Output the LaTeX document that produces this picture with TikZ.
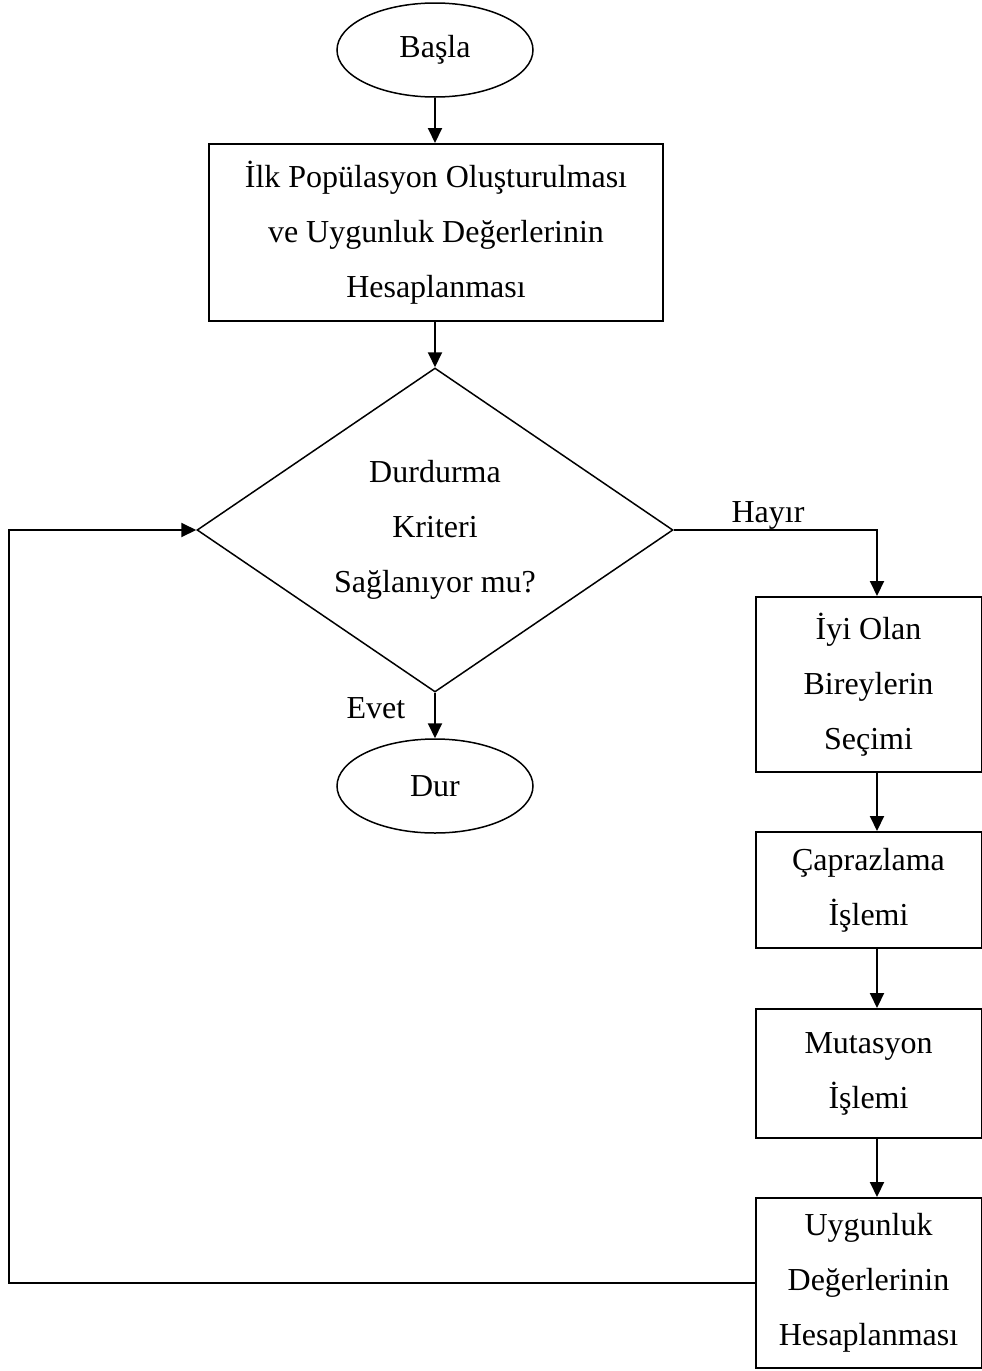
\documentclass[tikz,border=0pt]{standalone}
\usepackage{fontspec}
\setmainfont{Liberation Serif}
\usetikzlibrary{shapes.geometric,arrows.meta}

\tikzset{
  every node/.style={font=\fontsize{32}{55}\selectfont},
  terminal/.style={draw,ellipse,line width=1.5pt,minimum width=196pt,minimum height=94pt,inner sep=0pt},
  process/.style={draw,rectangle,line width=2pt,align=center,inner sep=0pt},
  decision/.style={draw,diamond,line width=1.5pt,align=center,inner sep=0pt,
    minimum width=476pt,minimum height=324pt,aspect=1.47},
  flow/.style={line width=2pt,-{Triangle[length=15pt,width=14pt]}},
  tag/.style={inner sep=0pt,anchor=base}
}

\begin{document}
\begin{tikzpicture}[x=1pt,y=-1pt]
  \useasboundingbox (0,0) rectangle (982,1371);

  % column positions of the connectors
  \coordinate (mid) at (435,0);
  \coordinate (col) at (877,0);
  \coordinate (back) at (9,0);

  % main column
  \node[terminal] (start) at (435,50) {Başla};
  \node[process,minimum width=454pt,minimum height=177pt] (init) at (436,232.5)
    {İlk Popülasyon Oluşturulması\\ve Uygunluk Değerlerinin\\Hesaplanması};
  \node[decision] (dec) at (435,530) {Durdurma\\Kriteri\\Sağlanıyor mu?};
  \node[terminal] (stop) at (435,786) {Dur};

  % right column
  \node[process,minimum width=226pt,minimum height=175pt] (sel) at (868.5,684.5)
    {İyi Olan\\Bireylerin\\Seçimi};
  \node[process,minimum width=226pt,minimum height=116pt] (cross) at (868.5,890)
    {Çaprazlama\\İşlemi};
  \node[process,minimum width=226pt,minimum height=129pt] (mut) at (868.5,1073.5)
    {Mutasyon\\İşlemi};
  \node[process,minimum width=226pt,minimum height=170pt] (fit) at (868.5,1283)
    {Uygunluk\\Değerlerinin\\Hesaplanması};

  % connectors
  \draw[flow] (start.south -| mid) -- (init.north -| mid);
  \draw[flow] (init.south -| mid) -- (dec.north);
  \draw[flow] (dec.south) -- (stop.north);
  \draw[flow] (dec.east) -- (dec.east -| col) -- (sel.north -| col);
  \draw[flow] (sel.south -| col) -- (cross.north -| col);
  \draw[flow] (cross.south -| col) -- (mut.north -| col);
  \draw[flow] (mut.south -| col) -- (fit.north -| col);
  \draw[flow] (fit.west) -- (fit.west -| back) -- (dec.west -| back) -- (dec.west);

  % branch labels
  \node[tag] (no) at (768,522) {Hayır};
  \node[tag] (yes) at (376,718) {Evet};
\end{tikzpicture}
\end{document}
